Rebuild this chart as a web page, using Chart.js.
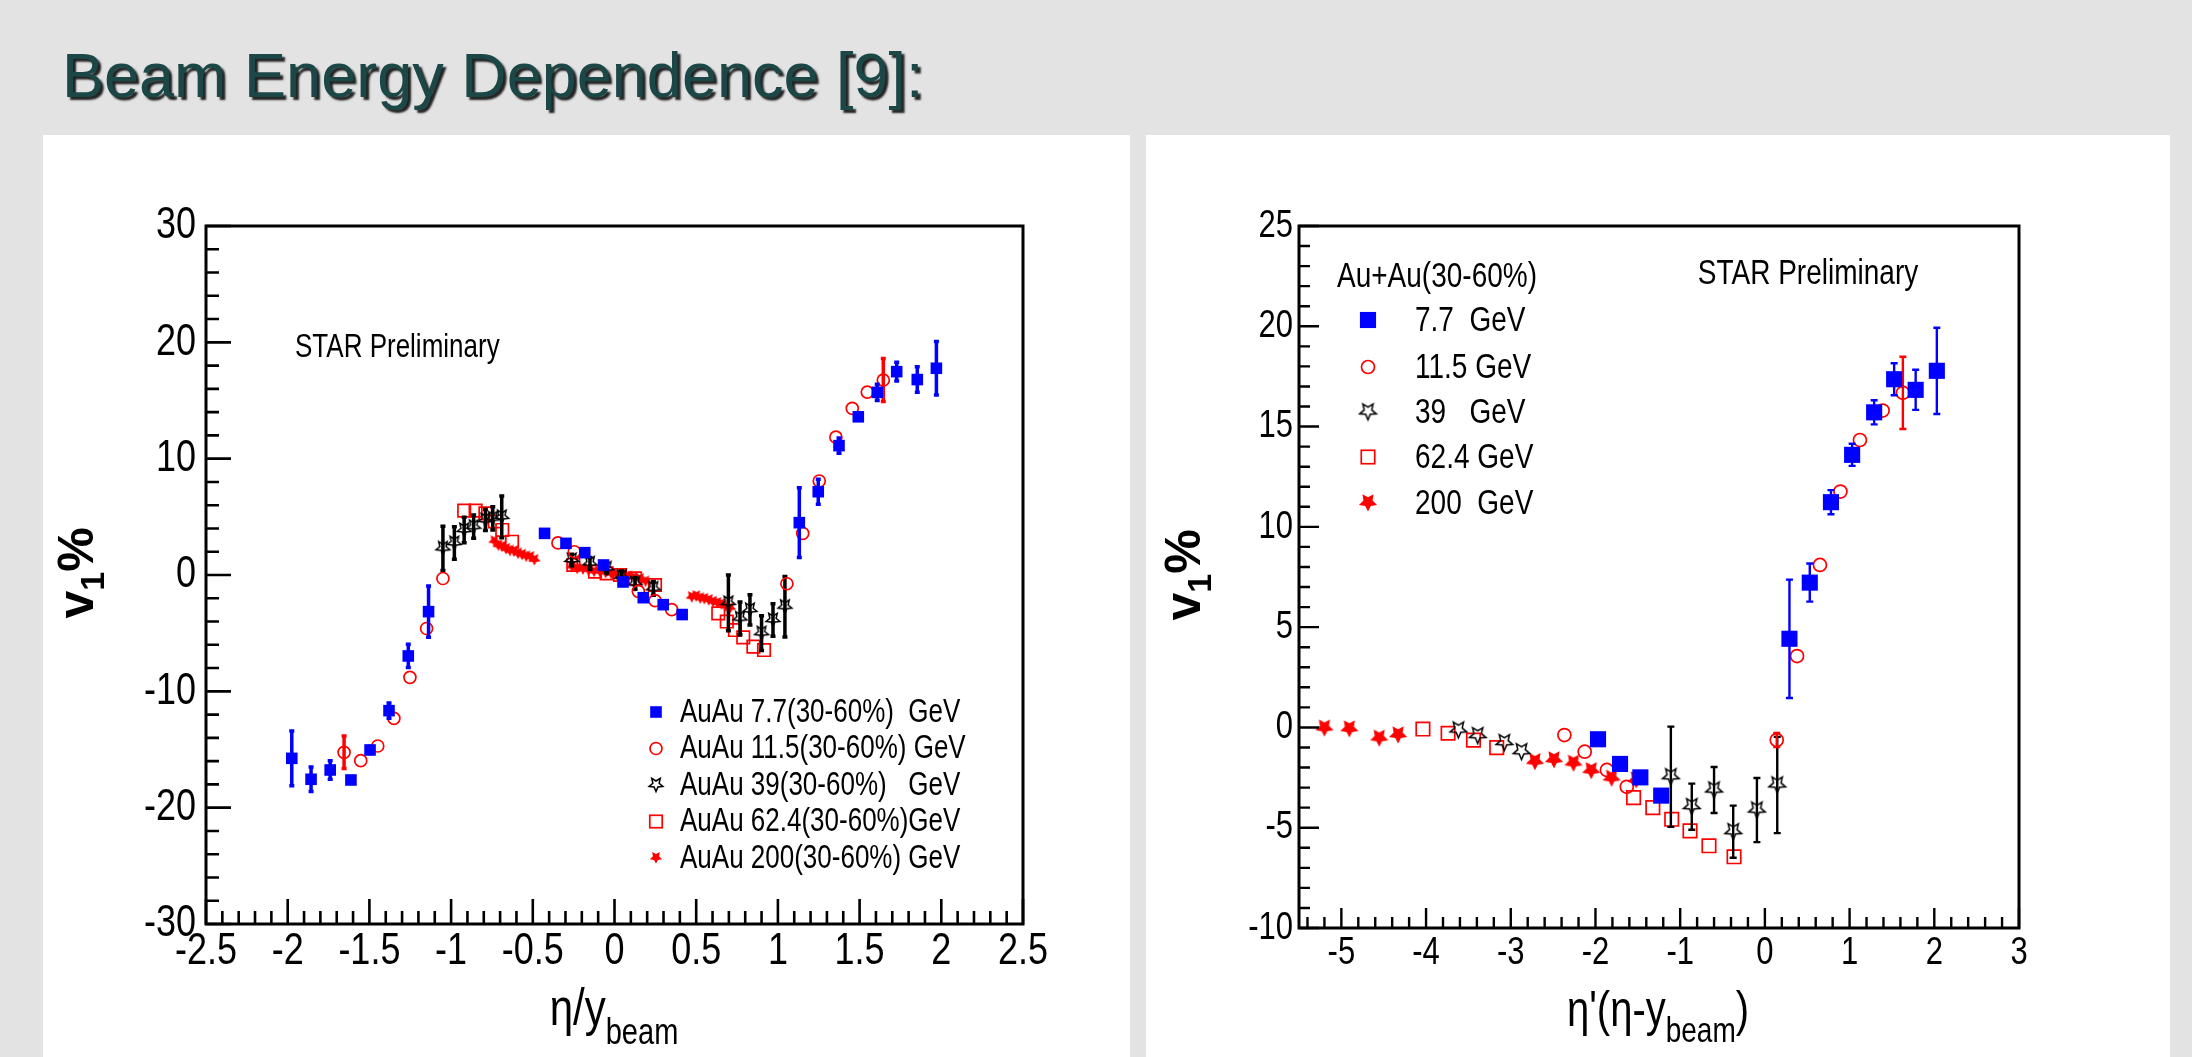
<!DOCTYPE html>
<html>
<head>
<meta charset="utf-8">
<script src="https://cdn.jsdelivr.net/npm/chart.js@4.4.0/dist/chart.umd.min.js"></script>
<style>
    body {margin: 0; width: 2192px; height: 1057px; background: #e3e3e3; overflow: hidden; position: relative;}
    #title {position: absolute; left: 62px; top: 44px; margin: 0; white-space: nowrap;
        font: 63px/62px "Liberation Sans", Arial, sans-serif; color: #1b4747;
        text-shadow: 3px 3px 2px rgba(0, 0, 0, 0.85);}
    .panel {position: absolute; top: 135px; height: 922px; background: #fff;}
    #pl {left: 43px; width: 1087px;}
    #pr {left: 1146px; width: 1024px;}
    canvas {position: absolute; left: 0; top: 0;}
</style>
</head>
<body>
<h1 id="title">Beam Energy Dependence [9]:</h1>
<div class="panel" id="pl"><canvas id="left" width="1087" height="922"></canvas></div>
<div class="panel" id="pr"><canvas id="right" width="1024" height="922"></canvas></div>
<script>
// ---- left panel: v1 vs eta/y_beam ----
const xTicksL = [-2.5, -2, -1.5, -1, -0.5, 0, 0.5, 1, 1.5, 2, 2.5]
const yTicksL = [-30, -20, -10, 0, 10, 20, 30]
const labelsL = ['AuAu 7.7(30-60%)  GeV', 'AuAu 11.5(30-60%) GeV', 'AuAu 39(30-60%)   GeV',
    'AuAu 62.4(30-60%)GeV', 'AuAu 200(30-60%) GeV']

const x77L = [-1.975, -1.857, -1.74, -1.613, -1.496, -1.38, -1.262, -1.138, -0.428, -0.297, -0.182, -0.067,
    0.052, 0.176, 0.298, 0.414, 1.131, 1.247, 1.374, 1.492, 1.608, 1.727, 1.853, 1.97]
const y77L = [-15.76, -17.56, -16.76, -17.62, -15.04, -11.66, -6.96, -3.15, 3.58, 2.72, 1.92, 0.86,
    -0.6, -1.95, -2.55, -3.4, 4.5, 7.16, 11.12, 13.6, 15.7, 17.48, 16.8, 17.77]
const e77L = [2.35, 1.05, 0.8, 0, 0.3, 0.65, 1.0, 2.2, 0, 0, 0, 0, 0, 0, 0, 0, 3.0, 1.07, 0.65, 0.3, 0.7, 0.8, 1.1, 2.3]

const x115L = [-1.655, -1.553, -1.449, -1.35, -1.252, -1.15, -1.05, -0.346, -0.246, 0.146, 0.248, 0.35,
    1.055, 1.152, 1.253, 1.355, 1.455, 1.547, 1.645]
const y115L = [-15.24, -15.96, -14.7, -12.32, -8.8, -4.6, -0.3, 2.76, 2.0, -1.4, -2.2, -2.98,
    -0.75, 3.58, 8.08, 11.85, 14.33, 15.72, 16.76]
const e115L = [1.4, 0, 0, 0, 0, 0, 0, 0, 0, 0, 0, 0, 0, 0, 0, 0, 0, 0, 1.85]

const x39L = [-1.05, -0.98, -0.92, -0.862, -0.79, -0.745, -0.69, -0.262, -0.15, -0.048, 0.044, 0.126, 0.238,
    0.697, 0.768, 0.829, 0.9, 0.97, 1.043]
const y39L = [2.29, 2.75, 3.87, 4.15, 4.73, 4.87, 5.0, 1.29, 1.0, 0.57, -0.15, -0.72, -1.15,
    -2.4, -3.73, -3.0, -5.0, -3.87, -2.72]
const e39L = [1.9, 1.4, 1.1, 1.0, 0.9, 1.0, 1.8, 0.5, 0.5, 0.4, 0.5, 0.5, 0.6, 2.4, 1.4, 1.3, 1.5, 1.4, 2.6]

const x624L = [-0.92, -0.85, -0.79, -0.733, -0.687, -0.627, -0.252, -0.19, -0.119, -0.048, 0.034, 0.126, 0.248,
    0.635, 0.687, 0.737, 0.788, 0.85, 0.915]
const y624L = [5.53, 5.53, 5.3, 4.6, 3.87, 2.86, 0.86, 1.0, 0.28, 0.14, 0.0, -0.29, -0.86,
    -3.3, -4.0, -4.73, -5.36, -6.16, -6.45]

const x200L = [-0.735, -0.71, -0.688, -0.663, -0.64, -0.615, -0.59, -0.565, -0.54, -0.515, -0.49,
    -0.262, -0.228, -0.193, -0.16, -0.125, -0.09, -0.055, -0.02, 0.015, 0.05, 0.085, 0.12, 0.155, 0.19,
    0.473, 0.5, 0.525, 0.55, 0.577, 0.603, 0.63, 0.655, 0.68, 0.707]
const y200L = [2.9, 2.55, 2.45, 2.25, 2.1, 2.05, 1.85, 1.75, 1.6, 1.55, 1.3,
    0.72, 0.55, 0.5, 0.42, 0.3, 0.28, 0.2, 0.1, 0.05, -0.05, -0.12, -0.22, -0.35, -0.55,
    -1.9, -1.82, -2.0, -2.05, -2.15, -2.3, -2.4, -2.5, -2.7, -2.85]

// ---- right panel: v1 vs eta' = eta - y_beam ----
const xTicksR = [-5, -4, -3, -2, -1, 0, 1, 2, 3]
const yTicksR = [-10, -5, 0, 5, 10, 15, 20, 25]
const labelsR = ['7.7  GeV', '11.5 GeV', '39   GeV', '62.4 GeV', '200  GeV']

const x77R = [-1.97, -1.71, -1.47, -1.224, 0.29, 0.53, 0.78, 1.03, 1.29, 1.526, 1.78, 2.03]
const y77R = [-0.59, -1.82, -2.49, -3.4, 4.42, 7.22, 11.23, 13.59, 15.71, 17.36, 16.83, 17.78]
const e77R = [0, 0, 0, 0, 2.95, 0.95, 0.6, 0.55, 0.6, 0.8, 1.0, 2.15]

const x115R = [-2.367, -2.127, -1.865, -1.63, 0.14, 0.38, 0.65, 0.892, 1.122, 1.39, 1.629]
const y115R = [-0.38, -1.21, -2.12, -2.96, -0.63, 3.56, 8.1, 11.76, 14.33, 15.8, 16.68]
const e115R = [0, 0, 0, 0, 0.35, 0, 0, 0, 0, 0, 1.8]

const x39R = [-3.618, -3.39, -3.076, -2.873, -1.11, -0.863, -0.6, -0.374, -0.094, 0.146]
const y39R = [-0.13, -0.41, -0.76, -1.21, -2.46, -3.95, -3.12, -5.2, -4.12, -2.87]
const e39R = [0, 0, 0, 0, 2.5, 1.15, 1.15, 1.3, 1.6, 2.4]

const x624R = [-4.037, -3.74, -3.44, -3.166, -1.55, -1.323, -1.1, -0.884, -0.66, -0.364]
const y624R = [-0.08, -0.29, -0.63, -1.01, -3.5, -4.0, -4.58, -5.16, -5.9, -6.45]

const x200R = [-5.2, -4.906, -4.553, -4.33, -2.714, -2.49, -2.26, -2.05, -1.81, -1.518]
const y200R = [-0.04, -0.08, -0.54, -0.38, -1.71, -1.62, -1.79, -2.16, -2.54, -2.62]

const FONT = '"Liberation Sans", Arial, sans-serif'
const BLUE = '#0000ff'
const RED = '#ff0000'
const SY = 1.25 // the figure text in the slide is stretched vertically

const pts = (xs, ys) => xs.map((x, i) => ({x: x, y: ys[i]}))

// ROOT style star marker (drawn point-down like in the picture)
function starImg(size, color, filled, lw, inner) {
    const c = document.createElement('canvas')
    c.width = c.height = size + 2
    const g = c.getContext('2d')
    const R = size / 2 - lw / 2, cx = c.width / 2, cy = c.height / 2 - R * 0.1
    g.beginPath()
    for (let k = 0; k < 10; k++) {
        const a = Math.PI / 2 + k * Math.PI / 5
        const r = k % 2 ? R * inner : R
        g.lineTo(cx + r * Math.cos(a), cy + r * Math.sin(a))
    }
    g.closePath()
    if (filled) {
        g.fillStyle = color
        g.fill()
    } else {
        g.strokeStyle = color
        g.lineWidth = lw
        g.stroke()
    }
    return c
}

// stretched text, anchored at (x, y)
function sText(ctx, s, x, y) {
    ctx.save()
    ctx.translate(x, y)
    ctx.scale(1, SY)
    ctx.fillText(s, 0, 0)
    ctx.restore()
}

const errorBars = {
    id: 'errorBars',
    beforeDatasetDraw(chart, args) {
        const ds = chart.data.datasets[args.index]
        if (!ds.err) return
        const ys = chart.scales.y, ctx = chart.ctx
        ctx.save()
        ctx.strokeStyle = ds.errColor
        ctx.lineWidth = ds.errWidth
        ctx.beginPath()
        args.meta.data.forEach((p, i) => {
            const e = ds.err[i]
            if (!e) return
            const v = ds.data[i].y
            const y1 = ys.getPixelForValue(v + e), y2 = ys.getPixelForValue(v - e)
            ctx.moveTo(p.x, y1)
            ctx.lineTo(p.x, y2)
            ctx.moveTo(p.x - ds.errCap, y1)
            ctx.lineTo(p.x + ds.errCap, y1)
            ctx.moveTo(p.x - ds.errCap, y2)
            ctx.lineTo(p.x + ds.errCap, y2)
        })
        ctx.stroke()
        ctx.restore()
    },
}

const isMajor = (v, m) => Math.abs(v / m - Math.round(v / m)) < 1e-6

const frameCfg = {
    left: {xStep: 0.1, xMajor: 0.5, yStep: 2, yMajor: 10, major: 25, minor: 13, lw: 3, tw: 2.6,
        fs: 36, xBase: 829, yPad: 10},
    right: {xStep: 0.2, xMajor: 1, yStep: 1, yMajor: 5, major: 20, minor: 11, lw: 3, tw: 2.4,
        fs: 31, xBase: 829, yPad: 6},
}

const framePlugin = {
    id: 'rootFrame',
    afterDatasetsDraw(chart) {
        const o = frameCfg[chart.canvas.id]
        const {ctx, chartArea: a} = chart
        const x = chart.scales.x, y = chart.scales.y
        ctx.save()
        ctx.strokeStyle = '#000'
        ctx.lineWidth = o.tw
        ctx.beginPath()
        for (let k = Math.ceil(x.min / o.xStep - 1e-6); k * o.xStep <= x.max + 1e-6; k++) {
            const v = k * o.xStep, px = x.getPixelForValue(v)
            ctx.moveTo(px, a.bottom)
            ctx.lineTo(px, a.bottom - (isMajor(v, o.xMajor) ? o.major : o.minor))
        }
        for (let k = Math.ceil(y.min / o.yStep - 1e-6); k * o.yStep <= y.max + 1e-6; k++) {
            const v = k * o.yStep, py = y.getPixelForValue(v)
            ctx.moveTo(a.left, py)
            ctx.lineTo(a.left + (isMajor(v, o.yMajor) ? o.major : o.minor), py)
        }
        ctx.stroke()
        ctx.lineWidth = o.lw
        ctx.strokeRect(a.left, a.top, a.right - a.left, a.bottom - a.top)

        // tick labels from the scales' own ticks
        ctx.fillStyle = '#000'
        ctx.font = o.fs + 'px ' + FONT
        ctx.textAlign = 'center'
        ctx.textBaseline = 'alphabetic'
        x.ticks.forEach(t => sText(ctx, String(t.value), x.getPixelForValue(t.value), o.xBase))
        ctx.textAlign = 'right'
        ctx.textBaseline = 'middle'
        y.ticks.forEach(t => sText(ctx, String(t.value), a.left - o.yPad, y.getPixelForValue(t.value)))
        ctx.restore()
    },
}

// text with sub scripts: parts = [text, font, dy]
function richText(ctx, parts, x, y, sy) {
    let w = 0
    parts.forEach(p => {
        ctx.font = p[1]
        w += ctx.measureText(p[0]).width
    })
    ctx.save()
    ctx.translate(x, y)
    ctx.scale(1, sy)
    let cx = -w / 2
    ctx.textAlign = 'left'
    ctx.textBaseline = 'alphabetic'
    parts.forEach(p => {
        ctx.font = p[1]
        ctx.fillText(p[0], cx, p[2] / sy)
        cx += ctx.measureText(p[0]).width
    })
    ctx.restore()
}

function yTitle(ctx, x, y) {
    ctx.save()
    ctx.translate(x, y)
    ctx.rotate(-Math.PI / 2)
    richText(ctx, [['v', 'bold 50px ' + FONT, 0], ['1', 'bold 34px ' + FONT, 11], ['%', 'bold 50px ' + FONT, 0]], 0, 0, 1)
    ctx.restore()
}

function drawMarker(ctx, ds, x, y) {
    const s = ds.pointStyle
    ctx.save()
    if (typeof s !== 'string') {
        ctx.drawImage(s, x - s.width / 2, y - s.height / 2)
    } else if (s === 'rect') {
        const h = ds.pointRadius * Math.SQRT1_2
        if (ds.borderWidth) {
            ctx.strokeStyle = ds.borderColor
            ctx.lineWidth = ds.borderWidth
            ctx.strokeRect(x - h, y - h, 2 * h, 2 * h)
        } else {
            ctx.fillStyle = ds.backgroundColor
            ctx.fillRect(x - h, y - h, 2 * h, 2 * h)
        }
    } else {
        ctx.beginPath()
        ctx.arc(x, y, ds.pointRadius, 0, 2 * Math.PI)
        ctx.strokeStyle = ds.borderColor
        ctx.lineWidth = ds.borderWidth
        ctx.stroke()
    }
    ctx.restore()
}

function legend(ctx, chart, labels, mx, lx, rows, font) {
    chart.data.datasets.forEach((ds, i) => {
        drawMarker(ctx, ds, mx, rows[i])
        ctx.fillStyle = '#000'
        ctx.font = font
        ctx.textAlign = 'left'
        ctx.textBaseline = 'middle'
        sText(ctx, labels[i], lx, rows[i] + 1)
    })
}

const decorFns = {
    left(ctx, chart) {
        ctx.save()
        ctx.fillStyle = '#000'
        ctx.font = '26px ' + FONT
        ctx.textAlign = 'left'
        ctx.textBaseline = 'alphabetic'
        sText(ctx, 'STAR Preliminary', 252, 222)
        legend(ctx, chart, labelsL, 613, 637, [577, 613.5, 650, 686.5, 723], '26px ' + FONT)
        ctx.fillStyle = '#000'
        richText(ctx, [['η/y', '42px ' + FONT, 0], ['beam', '29px ' + FONT, 19]], 571, 890, SY)
        yTitle(ctx, 50, 438)
        ctx.restore()
    },
    right(ctx, chart) {
        ctx.save()
        ctx.fillStyle = '#000'
        ctx.font = '28px ' + FONT
        ctx.textAlign = 'center'
        ctx.textBaseline = 'alphabetic'
        sText(ctx, 'STAR Preliminary', 662, 149)
        ctx.textAlign = 'left'
        sText(ctx, 'Au+Au(30-60%)', 191, 152)
        legend(ctx, chart, labelsR, 222, 269, [185, 232, 277, 322, 368], '28px ' + FONT)
        ctx.fillStyle = '#000'
        richText(ctx, [['η\'(η-y', '40px ' + FONT, 0], ['beam', '28px ' + FONT, 16], [')', '40px ' + FONT, 0]], 512, 891, SY)
        yTitle(ctx, 54, 440)
        ctx.restore()
    },
}

const decorPlugin = {
    id: 'decor',
    afterDraw(chart) {
        decorFns[chart.canvas.id](chart.ctx, chart)
    },
}

function makeChart(id, cfg) {
    const cv = document.getElementById(id)
    const a = cfg.area
    return new Chart(cv, {
        type: 'scatter',
        data: {datasets: cfg.datasets},
        options: {
            responsive: false,
            animation: false,
            devicePixelRatio: 1,
            layout: {padding: {top: a.top, left: 0, right: cv.width - a.right, bottom: 0}},
            plugins: {legend: {display: false}, tooltip: {enabled: false}},
            scales: {
                x: {
                    type: 'linear', min: cfg.xMin, max: cfg.xMax,
                    afterBuildTicks: s => { s.ticks = cfg.xTicks.map(v => ({value: v})) },
                    afterFit: s => {
                        s.height = cv.height - a.bottom
                        s.paddingLeft = s.paddingRight = 0
                    },
                    grid: {display: false, drawTicks: false},
                    border: {display: false},
                    ticks: {display: false},
                },
                y: {
                    type: 'linear', min: cfg.yMin, max: cfg.yMax,
                    afterBuildTicks: s => { s.ticks = cfg.yTicks.map(v => ({value: v})) },
                    afterFit: s => {
                        s.width = a.left
                        s.paddingTop = s.paddingBottom = 0
                    },
                    grid: {display: false, drawTicks: false},
                    border: {display: false},
                    ticks: {display: false},
                },
            },
        },
        plugins: [errorBars, framePlugin, decorPlugin],
    })
}

Chart.defaults.font.family = FONT

makeChart('left', {
    area: {left: 163, top: 91, right: 980, bottom: 789},
    xMin: -2.5, xMax: 2.5, yMin: -30, yMax: 30, xTicks: xTicksL, yTicks: yTicksL,
    datasets: [
        {data: pts(x77L, y77L), err: e77L, errColor: BLUE, errWidth: 3.5, errCap: 2.5,
            pointStyle: 'rect', pointRadius: 8.2, backgroundColor: BLUE, borderColor: BLUE, borderWidth: 0},
        {data: pts(x115L, y115L), err: e115L, errColor: RED, errWidth: 3.5, errCap: 2.5,
            pointStyle: 'circle', pointRadius: 6, backgroundColor: 'rgba(0,0,0,0)', borderColor: RED, borderWidth: 1.7},
        {data: pts(x39L, y39L), err: e39L, errColor: '#000', errWidth: 3.5, errCap: 2.5,
            pointStyle: starImg(16, '#000', false, 1.5, 0.45)},
        {data: pts(x624L, y624L),
            pointStyle: 'rect', pointRadius: 8.8, backgroundColor: 'rgba(0,0,0,0)', borderColor: RED, borderWidth: 1.7},
        {data: pts(x200L, y200L), pointStyle: starImg(14, RED, true, 1, 0.5)},
    ],
})

makeChart('right', {
    area: {left: 153, top: 91, right: 873, bottom: 793},
    xMin: -5.5, xMax: 3, yMin: -10, yMax: 25, xTicks: xTicksR, yTicks: yTicksR,
    datasets: [
        {data: pts(x77R, y77R), err: e77R, errColor: BLUE, errWidth: 2.4, errCap: 3.5,
            pointStyle: 'rect', pointRadius: 11.4, backgroundColor: BLUE, borderColor: BLUE, borderWidth: 0},
        {data: pts(x115R, y115R), err: e115R, errColor: RED, errWidth: 2.4, errCap: 3.5,
            pointStyle: 'circle', pointRadius: 6.5, backgroundColor: 'rgba(0,0,0,0)', borderColor: RED, borderWidth: 1.7},
        {data: pts(x39R, y39R), err: e39R, errColor: '#000', errWidth: 2.4, errCap: 3.5,
            pointStyle: starImg(19, '#000', false, 1.5, 0.45)},
        {data: pts(x624R, y624R),
            pointStyle: 'rect', pointRadius: 9.5, backgroundColor: 'rgba(0,0,0,0)', borderColor: RED, borderWidth: 1.7},
        {data: pts(x200R, y200R), pointStyle: starImg(20, RED, true, 1, 0.5)},
    ],
})
</script>
</body>
</html>
